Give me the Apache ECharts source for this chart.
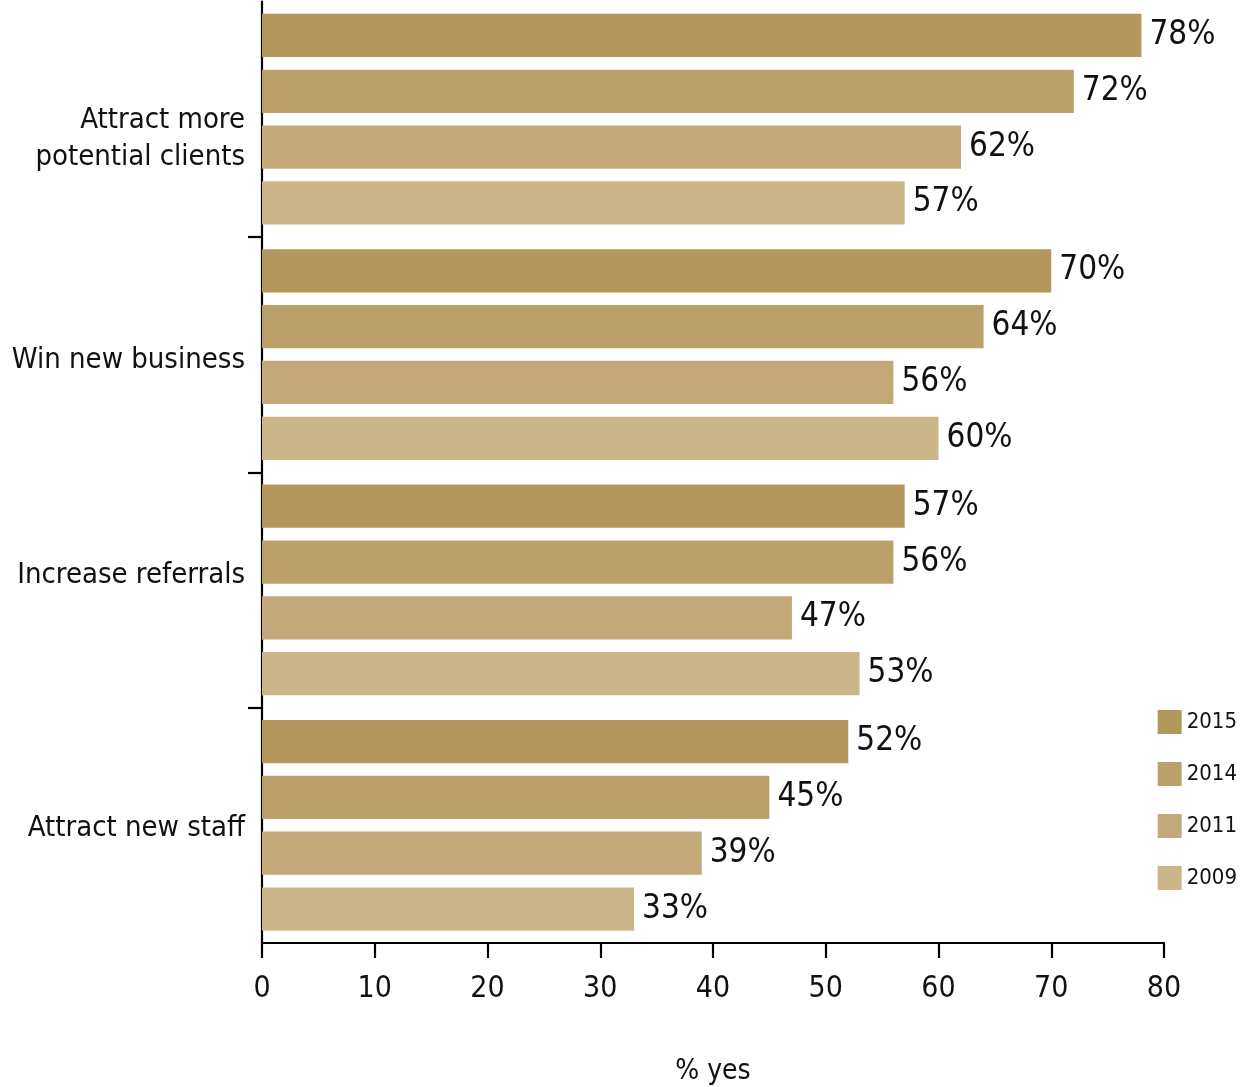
<!DOCTYPE html>
<html>
<head>
<meta charset="utf-8">
<script src="https://cdn.jsdelivr.net/npm/echarts@6/dist/echarts.min.js"></script>
<style>
  html, body { margin: 0; padding: 0; background: #ffffff; }
  #chart { width: 1245px; height: 1087px; }
</style>
</head>
<body>
<div id="chart"></div>
<script>
// Survey goals, top to bottom
const categories = ['Attract more\npotential clients', 'Win new business', 'Increase referrals', 'Attract new staff'];
const years = ['2015', '2014', '2011', '2009'];
const values2015 = [78, 70, 57, 52];
const values2014 = [72, 64, 56, 45];
const values2011 = [62, 56, 47, 39];
const values2009 = [57, 60, 53, 33];
const xTicks = [0, 10, 20, 30, 40, 50, 60, 70, 80];

const yearColors = ['#b3975c', '#bca06b', '#c3a97a', '#cbb68a'];
const FONT = "'DejaVu Sans Condensed', 'DejaVu Sans', sans-serif";
const seriesValues = [values2015, values2014, values2011, values2009];
// spacer lines that nudge each goal label up or down: [height, 'top' | 'bottom']
const labelNudge = [[39, 'top'], [12, 'top'], [28, 'bottom'], [6, 'top']];

function goalLabel(value, index) {
  const body = value.split('\n').map(line => '{t|' + line + '}').join('\n');
  const [h, side] = labelNudge[index];
  const spacer = '{s' + h + '| }';
  return side === 'top' ? spacer + '\n' + body : body + '\n' + spacer;
}

const richStyles = { t: { fontFamily: FONT, fontSize: 29, lineHeight: 37, color: '#111111', align: 'right' } };
labelNudge.forEach(([h]) => { richStyles['s' + h] = { fontSize: 1, lineHeight: h, height: h }; });

const chart = echarts.init(document.getElementById('chart'), null, { renderer: 'canvas' });

chart.setOption({
  animation: false,
  backgroundColor: '#ffffff',
  grid: { left: 262, right: 81, top: 1.5, bottom: 144, containLabel: false, outerBoundsMode: 'none' },
  legend: {
    orient: 'vertical',
    right: 3,
    top: 705,
    itemWidth: 24,
    itemHeight: 24,
    itemGap: 28,
    icon: 'rect',
    textStyle: { fontFamily: FONT, fontSize: 22, color: '#111111' },
    data: years
  },
  xAxis: {
    type: 'value',
    min: xTicks[0],
    max: xTicks[xTicks.length - 1],
    interval: 10,
    name: '% yes',
    nameLocation: 'middle',
    nameGap: 115,
    nameTextStyle: { fontFamily: FONT, fontSize: 28, color: '#111111' },
    axisLine: { show: true, onZero: false, lineStyle: { color: '#000000', width: 2.2 } },
    axisTick: { show: true, length: 15, lineStyle: { color: '#000000', width: 2.2 } },
    axisLabel: { fontFamily: FONT, fontSize: 30, color: '#111111', margin: 31 },
    splitLine: { show: false }
  },
  yAxis: [
    {
      type: 'category',
      inverse: true,
      data: categories,
      axisLine: { show: true, onZero: false, lineStyle: { color: '#000000', width: 2.2 } },
      axisTick: { show: false },
      axisLabel: { margin: 17, align: 'right', formatter: goalLabel, rich: richStyles }
    },
    {
      // boundary ticks between the goal groups
      type: 'value',
      position: 'left',
      inverse: true,
      min: 0,
      max: categories.length,
      interval: 1,
      axisLine: { show: false, onZero: false },
      axisLabel: { show: false },
      splitLine: { show: false },
      axisTick: { show: true, length: 14, customValues: [1, 2, 3], lineStyle: { color: '#000000', width: 2.2 } }
    }
  ],
  series: years.map((y, i) => ({
    name: y,
    type: 'bar',
    yAxisIndex: 0,
    data: seriesValues[i],
    barGap: '29%',
    barCategoryGap: '10.5%',
    itemStyle: { color: yearColors[i] },
    label: {
      show: true,
      position: 'right',
      distance: 8,
      formatter: '{c}%',
      fontFamily: FONT,
      fontSize: 33,
      color: '#111111'
    }
  }))
});
</script>
</body>
</html>
